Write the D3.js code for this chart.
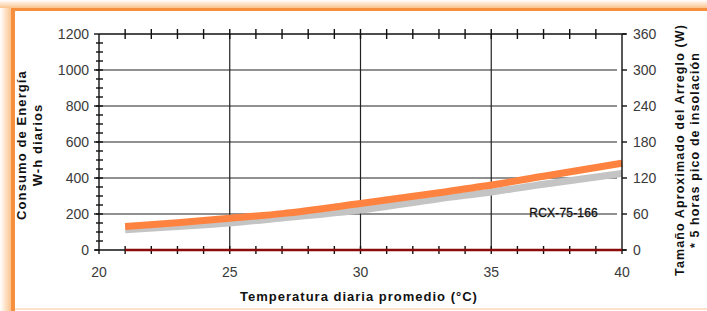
<!DOCTYPE html>
<html>
<head>
    <script src="https://d3js.org/d3.v7.min.js"></script>
    <style>
        body { margin: 0; background: #fff; }
        text { font-family: "Liberation Sans", Arial, sans-serif; }
    </style>
</head>
<body>
    <script>
        // values
        var temps = [21, 23, 25, 27, 30, 33, 35, 37, 40];
        var consumo = [130, 152, 176, 202, 258, 318, 361, 410, 482];
        var arreglo = [112, 130, 150, 178, 222, 285, 322, 365, 425];
        var xTicks = [20, 25, 30, 35, 40];
        var yTicks = [0, 200, 400, 600, 800, 1000, 1200];
        var y2Ticks = [0, 60, 120, 180, 240, 300, 360];
        var cero = [[21, 0], [40, 0]];

        var width = 707, height = 311;
        var pLeft = 99, pRight = 622, pTop = 34, pBottom = 250;

        var svg = d3.select("body").append("svg")
            .attr("width", width)
            .attr("height", height);

        // orange frame with soft glow
        var defs = svg.append("defs");
        var gl = defs.append("linearGradient").attr("id", "gl").attr("x1", 0).attr("x2", 1);
        gl.append("stop").attr("offset", 0).attr("stop-color", "#fff");
        gl.append("stop").attr("offset", 1).attr("stop-color", "#fbc48e");
        var gt = defs.append("linearGradient").attr("id", "gt").attr("x1", 0).attr("x2", 0).attr("y1", 0).attr("y2", 1);
        gt.append("stop").attr("offset", 0).attr("stop-color", "#fff");
        gt.append("stop").attr("offset", 1).attr("stop-color", "#fbc48e");

        svg.append("rect").attr("x", 0).attr("y", 0).attr("width", 11).attr("height", height).attr("fill", "url(#gl)");
        svg.append("rect").attr("x", 0).attr("y", 0).attr("width", width).attr("height", 8).attr("fill", "url(#gt)");
        svg.append("rect").attr("x", 11).attr("y", 8).attr("width", 4).attr("height", height).attr("fill", "#f6903e");
        svg.append("rect").attr("x", 11).attr("y", 8).attr("width", width).attr("height", 3).attr("fill", "#f6903e");
        svg.append("rect").attr("x", 15).attr("y", 308).attr("width", width).attr("height", 2).attr("fill", "#fde3cc");

        var x = d3.scaleLinear().domain([20, 40]).range([pLeft, pRight]);
        var y = d3.scaleLinear().domain([0, 1200]).range([pBottom, pTop]);
        var y2 = d3.scaleLinear().domain([0, 360]).range([pBottom, pTop]);

        // grid
        var grid = svg.append("g").attr("stroke", "#222").attr("stroke-width", 1.2);
        grid.selectAll(".gy").data(yTicks.slice(1, -1)).enter().append("line")
            .attr("x1", pLeft).attr("x2", pRight - 5)
            .attr("y1", function(d) { return y(d); })
            .attr("y2", function(d) { return y(d); });
        grid.selectAll(".gx").data(xTicks.slice(1, -1)).enter().append("line")
            .attr("y1", pTop).attr("y2", pBottom)
            .attr("x1", function(d) { return x(d); })
            .attr("x2", function(d) { return x(d); });

        // series
        var line = d3.line()
            .x(function(d) { return x(d[0]); })
            .y(function(d) { return y(d[1]); })
            .curve(d3.curveMonotoneX);

        svg.append("path")
            .datum(temps.map(function(t, i) { return [t, arreglo[i]]; }))
            .attr("d", line).attr("fill", "none")
            .attr("stroke", "#c4c4c4").attr("stroke-width", 7);
        svg.append("path")
            .datum(temps.map(function(t, i) { return [t, consumo[i]]; }))
            .attr("d", line).attr("fill", "none")
            .attr("stroke", "#ff8340").attr("stroke-width", 7);

        // axes
        var ax = svg.append("g").attr("stroke", "#111").attr("stroke-width", 1.4);
        ax.append("line").attr("x1", pLeft).attr("x2", pLeft).attr("y1", pTop).attr("y2", pBottom + 4);
        ax.append("line").attr("x1", pRight).attr("x2", pRight).attr("y1", pTop).attr("y2", pBottom + 4);
        ax.append("line").attr("x1", pLeft).attr("x2", pRight + 4).attr("y1", pTop).attr("y2", pTop);
        ax.append("line").attr("x1", pLeft - 4).attr("x2", pRight + 4).attr("y1", pBottom).attr("y2", pBottom);

        var minorX = d3.range(21, 40);
        ax.selectAll(".mxb").data(minorX).enter().append("line")
            .attr("x1", function(d) { return x(d); }).attr("x2", function(d) { return x(d); })
            .attr("y1", pBottom - 4).attr("y2", pBottom + 4);
        ax.selectAll(".mxt").data(minorX).enter().append("line")
            .attr("x1", function(d) { return x(d); }).attr("x2", function(d) { return x(d); })
            .attr("y1", pTop - 5).attr("y2", pTop + 5);
        var minorY = d3.range(50, 1200, 50);
        ax.selectAll(".my").data(minorY).enter().append("line")
            .attr("x1", pLeft - 3).attr("x2", pLeft + 4)
            .attr("y1", function(d) { return y(d); }).attr("y2", function(d) { return y(d); });
        ax.selectAll(".myl").data(yTicks).enter().append("line")
            .attr("x1", pLeft - 5).attr("x2", pLeft)
            .attr("y1", function(d) { return y(d); }).attr("y2", function(d) { return y(d); });
        ax.selectAll(".my2").data(y2Ticks).enter().append("line")
            .attr("x1", pRight).attr("x2", pRight + 5)
            .attr("y1", function(d) { return y2(d); }).attr("y2", function(d) { return y2(d); });

        // zero line
        svg.append("path")
            .datum(cero)
            .attr("d", d3.line().x(function(d) { return x(d[0]); }).y(function(d) { return y(d[1]); }))
            .attr("stroke", "#8b0a0a").attr("stroke-width", 2.6);

        // tick labels
        svg.selectAll(".ly").data(yTicks).enter().append("text")
            .attr("x", pLeft - 10).attr("y", function(d) { return y(d) + 5; })
            .attr("text-anchor", "end").attr("font-size", 14).attr("fill", "#3a3a3a")
            .text(function(d) { return d; });
        svg.selectAll(".ly2").data(y2Ticks).enter().append("text")
            .attr("x", pRight + 11).attr("y", function(d) { return y2(d) + 5; })
            .attr("text-anchor", "start").attr("font-size", 14).attr("fill", "#3a3a3a")
            .text(function(d) { return d; });
        svg.selectAll(".lx").data(xTicks).enter().append("text")
            .attr("x", function(d) { return x(d); }).attr("y", 277)
            .attr("text-anchor", "middle").attr("font-size", 14).attr("fill", "#3a3a3a")
            .text(function(d) { return d; });

        // titles
        svg.append("text")
            .attr("x", 359).attr("y", 301).attr("text-anchor", "middle")
            .attr("font-size", 13).attr("font-weight", "bold").attr("fill", "#111")
            .attr("letter-spacing", 1)
            .text("Temperatura diaria promedio (°C)");

        var yl = svg.append("text")
            .attr("transform", "translate(26,145) rotate(-90)")
            .attr("text-anchor", "middle").attr("font-size", 13)
            .attr("font-weight", "bold").attr("fill", "#111").attr("letter-spacing", 1.1);
        yl.append("tspan").attr("x", 0).attr("dy", 0).text("Consumo de Energía");
        yl.append("tspan").attr("x", 0).attr("dy", 16).text("W-h diarios");

        var yr = svg.append("text")
            .attr("transform", "translate(684,150) rotate(-90)")
            .attr("text-anchor", "middle").attr("font-size", 12.5)
            .attr("font-weight", "bold").attr("fill", "#111").attr("letter-spacing", 1.1);
        yr.append("tspan").attr("x", 0).attr("dy", 0).text("Tamaño Aproximado del Arreglo (W)");
        yr.append("tspan").attr("x", 0).attr("dy", 15).text("* 5 horas pico de insolación");

        svg.append("text")
            .attr("x", 598).attr("y", 217).attr("text-anchor", "end")
            .attr("font-size", 12).attr("fill", "#111")
            .attr("stroke", "#111").attr("stroke-width", 0.3)
            .attr("letter-spacing", 0.2)
            .text("RCX-75-166");
    </script>
</body>
</html>
